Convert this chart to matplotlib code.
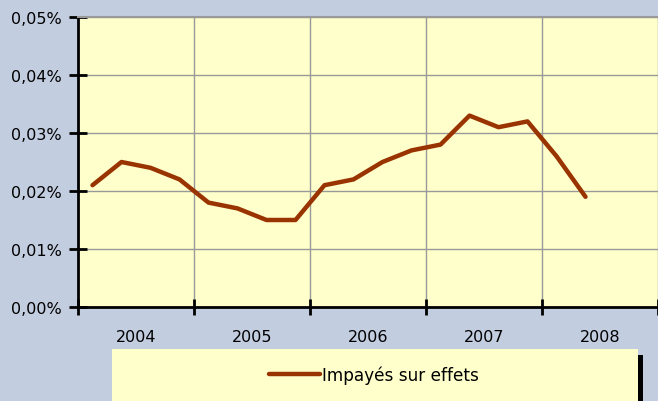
import matplotlib.pyplot as plt
from matplotlib.patches import Rectangle
from matplotlib.ticker import FixedLocator, FuncFormatter

years = ['2004', '2005', '2006', '2007', '2008']
# quarterly values (in %), 2004Q1 .. 2008Q2
impayes = [0.021, 0.025, 0.024, 0.022, 0.018, 0.017, 0.015, 0.015,
           0.021, 0.022, 0.025, 0.027, 0.028, 0.033, 0.031, 0.032,
           0.026, 0.019]

plt.rcParams['font.family'] = ['DejaVu Sans']

bg = '#c3cde0'
plot_bg = '#ffffcc'
line_col = '#993300'
fs = 11.5

fig = plt.figure(figsize=(6.58, 4.02), dpi=100)
fig.patch.set_facecolor(bg)

W, H = 658, 402
ax = fig.add_axes([78 / W, (H - 308) / H, 580 / W, 290 / H])
ax.set_facecolor(plot_bg)

x = [(i + 0.5) / 4 for i in range(len(impayes))]
ax.plot(x, impayes, color=line_col, linewidth=3.2, solid_joinstyle='round',
        solid_capstyle='round', label='Impayés sur effets', zorder=3)

ax.set_xlim(0, len(years))
ax.set_ylim(0, 0.05)

ax.xaxis.set_major_locator(FixedLocator(range(len(years) + 1)))
ax.xaxis.set_minor_locator(FixedLocator([i + 0.5 for i in range(len(years))]))
ax.xaxis.set_major_formatter(FuncFormatter(lambda v, p: ''))
ax.set_xticklabels(years, minor=True)
ax.tick_params(axis='x', which='minor', length=0, pad=16, labelsize=fs)
ax.tick_params(axis='x', which='major', direction='inout', length=11, width=2)

ax.set_yticks([0, 0.01, 0.02, 0.03, 0.04, 0.05])
ax.yaxis.set_major_formatter(FuncFormatter(lambda v, p: f'{v:.2f}%'.replace('.', ',')))
ax.tick_params(axis='y', direction='inout', length=13, width=2, labelsize=fs, pad=5)

ax.grid(True, which='major', color='#999999', linewidth=1)
ax.set_axisbelow(True)

for s in ['left', 'bottom']:
    ax.spines[s].set_linewidth(2)
    ax.spines[s].set_color('black')
ax.spines['top'].set_color('#999999')
ax.spines['top'].set_linewidth(1.5)
ax.spines['right'].set_visible(False)

# legend box with dark shadow on the right
fig.patches.append(Rectangle((638 / W, 0), 5 / W, (H - 356) / H, transform=fig.transFigure,
                             facecolor='black', edgecolor='none', zorder=0))
fig.patches.append(Rectangle((112 / W, 0), 526 / W, (H - 350) / H, transform=fig.transFigure,
                             facecolor=plot_bg, edgecolor='none', zorder=1))
fig.legend(loc='center', bbox_to_anchor=(374 / W, (H - 376) / H), frameon=False,
           fontsize=12.2, handlelength=3.0, handletextpad=0.1)

fig.savefig('out.png', dpi=100, facecolor=bg)
